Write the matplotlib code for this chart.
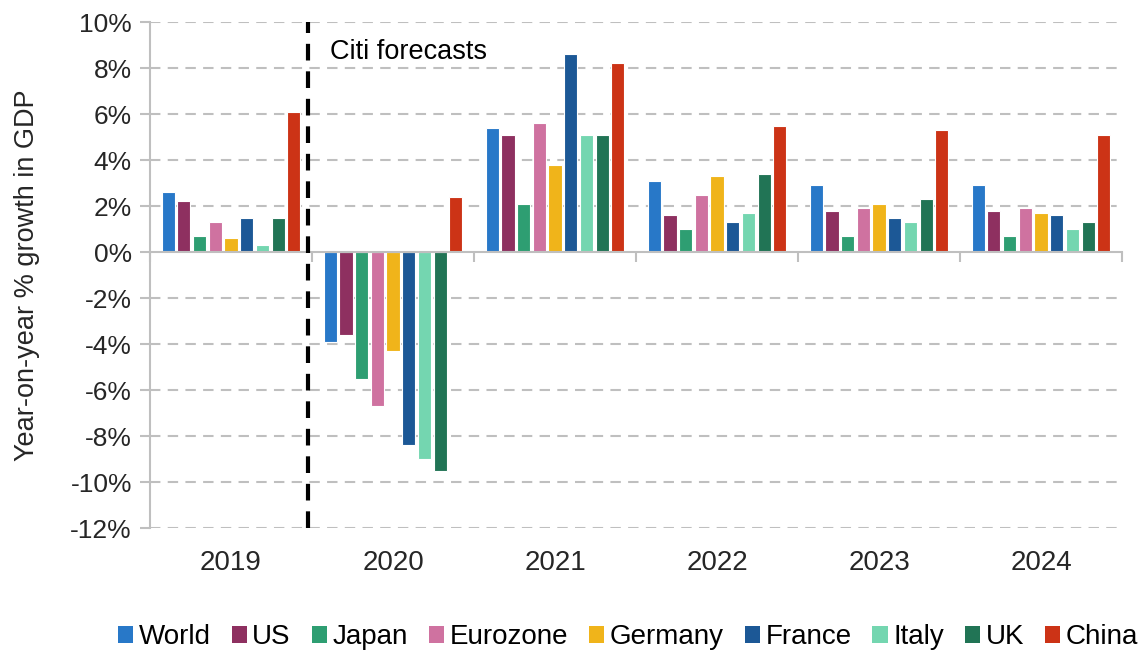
import matplotlib
matplotlib.use("Agg")
import matplotlib.pyplot as plt
import numpy as np
from matplotlib.patches import Patch
from matplotlib.transforms import blended_transform_factory

years = ["2019", "2020", "2021", "2022", "2023", "2024"]
series_names = ["World", "US", "Japan", "Eurozone", "Germany", "France", "Italy", "UK", "China"]
world    = [2.6, -3.9, 5.4, 3.1, 2.9, 2.9]
us       = [2.2, -3.6, 5.1, 1.6, 1.8, 1.8]
japan    = [0.7, -5.5, 2.1, 1.0, 0.7, 0.7]
eurozone = [1.3, -6.7, 5.6, 2.5, 1.9, 1.9]
germany  = [0.6, -4.3, 3.8, 3.3, 2.1, 1.7]
france   = [1.5, -8.4, 8.6, 1.3, 1.5, 1.6]
italy    = [0.3, -9.0, 5.1, 1.7, 1.3, 1.0]
uk       = [1.5, -9.5, 5.1, 3.4, 2.3, 1.3]
china    = [6.1, 2.4, 8.2, 5.5, 5.3, 5.1]
series_values = [world, us, japan, eurozone, germany, france, italy, uk, china]
colors = ["#2878C8", "#8E3060", "#2E9E72", "#CF72A0", "#F0B41A", "#1C5896", "#74D6B0", "#217455", "#CC3316"]
yticks = list(range(-12, 11, 2))

plt.rcParams['font.family'] = ['Liberation Sans', 'DejaVu Sans']

fig = plt.figure(figsize=(11.46, 6.53), dpi=100)
ax = fig.add_axes([150/1146, 1-528/653, (1122-150)/1146, (528-22)/653])

x = np.arange(len(years))
pitch = 0.097
width = 0.082
n = len(series_names)
for i, (name, vals, c) in enumerate(zip(series_names, series_values, colors)):
    offs = (i - (n-1)/2) * pitch
    ax.bar(x + offs, vals, width=width, color=c, edgecolor="white", linewidth=0.8, label=name, zorder=3)

ax.set_xlim(-0.5, 5.5)
ax.set_ylim(-12, 10)
ax.set_yticks(yticks)
ax.set_yticklabels([f"{v}%" for v in yticks], fontsize=19, color="#262626")
for y in yticks:
    if y != 0:
        ax.axhline(y, color="#BFBFBF", lw=1.5, ls=(0, (5, 3.5)), zorder=1)

for s in ["top", "right"]:
    ax.spines[s].set_visible(False)
ax.spines["left"].set_color("#BFBFBF")
ax.spines["left"].set_linewidth(1.5)
ax.spines["bottom"].set_position(("data", 0))
ax.spines["bottom"].set_color("#BFBFBF")
ax.spines["bottom"].set_linewidth(1.5)
ax.spines["bottom"].set_zorder(4)

ax.tick_params(axis="y", length=7, width=1.5, color="#BFBFBF", pad=6)
ax.set_xticks(np.arange(-0.5, 5.6, 1.0))
ax.set_xticklabels([])
ax.tick_params(axis="x", length=7, width=1.5, color="#BFBFBF", direction="out")

trans = blended_transform_factory(ax.transData, ax.transAxes)
for xi, yr in zip(x, years):
    ax.text(xi, -35/506, yr, transform=trans, ha="center", va="center", fontsize=20, color="#262626")

ax.set_ylabel("Year-on-year % growth in GDP", fontsize=19.5, color="#262626", labelpad=22)

ax.axvline(0.475, color="black", lw=3, ls=(0, (4, 2.6)), zorder=5)
ax.text(0.61, 8.7, "Citi forecasts", fontsize=19.5, color="black", ha="left", va="center")

handles = [Patch(facecolor=c, edgecolor="none", label=nm) for nm, c in zip(series_names, colors)]
fig.legend(handles=handles, loc="center", bbox_to_anchor=(628/1146, 1-637/653), ncol=9, frameon=False,
           fontsize=20, handlelength=0.55, handleheight=0.55, handletextpad=0.2, columnspacing=0.75,
           borderpad=0, borderaxespad=0)

fig.savefig("out.png", dpi=100)
